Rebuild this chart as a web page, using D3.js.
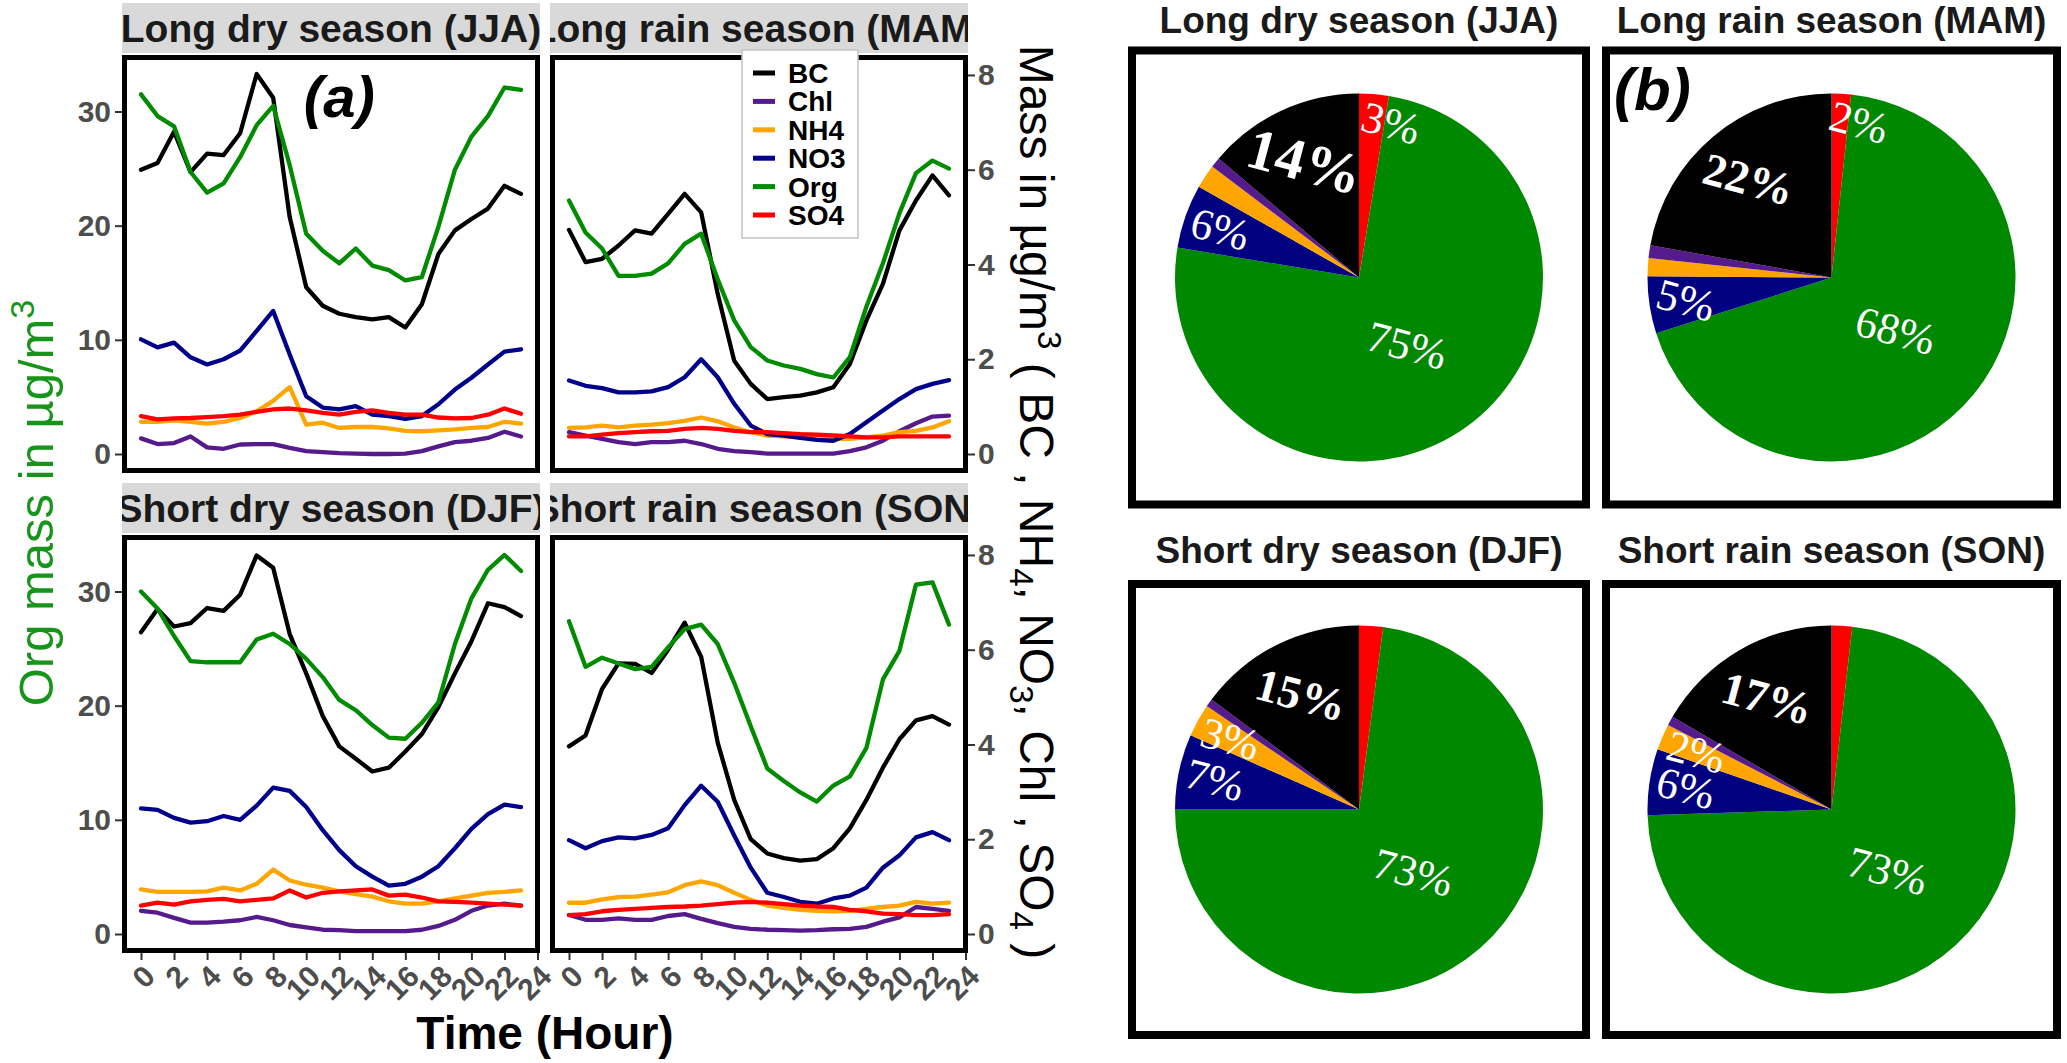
<!DOCTYPE html>
<html><head><meta charset="utf-8">
<script src="https://cdn.jsdelivr.net/npm/d3@7"></script>
<style>body{margin:0;background:#fff} svg{display:block}</style>
</head><body>
<svg id="chart" width="2067" height="1063"></svg>
<script>
// ---------------- DATA ----------------
const hours = [0,1,2,3,4,5,6,7,8,9,10,11,12,13,14,15,16,17,18,19,20,21,22,23];
const seasons = ["Long dry season (JJA)","Long rain season (MAM)","Short dry season (DJF)","Short rain season (SON)"];
const species = ["BC","Chl","NH4","NO3","Org","SO4"];
const leftTicks = [0,10,20,30];
const rightTicks = [0,2,4,6,8];
const xTicks = [0,2,4,6,8,10,12,14,16,18,20,22,24];
const secFactor = 4.15; // Org axis units per secondary-axis unit

// Org in µg/m3 (left axis); other species in µg/m3 on the right axis
const org_JJA = [31.5,29.6,28.7,24.7,22.9,23.7,26.0,28.8,30.5,25.3,19.3,17.8,16.7,18.0,16.5,16.1,15.2,15.5,19.9,24.9,27.8,29.6,32.1,31.9];
const bc_JJA  = [6.0,6.14,6.8,5.95,6.34,6.31,6.77,8.02,7.52,5.0,3.52,3.13,2.96,2.89,2.84,2.89,2.67,3.16,4.22,4.72,4.96,5.18,5.66,5.49];
const no3_JJA = [2.42,2.25,2.35,2.04,1.89,2.0,2.18,2.6,3.02,2.1,1.22,0.98,0.94,1.01,0.83,0.8,0.74,0.8,1.05,1.36,1.61,1.89,2.16,2.21];
const nh4_JJA = [0.68,0.68,0.71,0.68,0.64,0.68,0.76,0.9,1.12,1.41,0.62,0.66,0.55,0.57,0.57,0.54,0.49,0.48,0.5,0.52,0.55,0.57,0.68,0.64];
const so4_JJA = [0.8,0.73,0.75,0.76,0.78,0.8,0.83,0.89,0.94,0.96,0.92,0.87,0.83,0.89,0.92,0.87,0.83,0.83,0.77,0.75,0.76,0.83,0.96,0.85];
const chl_JJA = [0.33,0.21,0.23,0.37,0.14,0.11,0.2,0.21,0.21,0.13,0.06,0.04,0.02,0.01,0.0,0.0,0.01,0.06,0.16,0.25,0.28,0.34,0.47,0.37];

const org_MAM = [22.2,19.4,18.0,15.6,15.6,15.8,16.7,18.4,19.3,15.3,11.7,9.36,8.19,7.75,7.46,7.0,6.7,8.48,12.9,16.7,21.1,24.6,25.7,25.0];
const bc_MAM  = [4.73,4.05,4.12,4.4,4.72,4.65,5.07,5.49,5.1,3.38,1.97,1.48,1.16,1.2,1.23,1.3,1.41,1.9,2.82,3.59,4.72,5.35,5.88,5.46];
const no3_MAM = [1.55,1.44,1.39,1.3,1.3,1.32,1.41,1.62,2.0,1.62,1.06,0.6,0.42,0.39,0.34,0.3,0.28,0.42,0.67,0.92,1.16,1.37,1.48,1.56];
const nh4_MAM = [0.55,0.56,0.6,0.56,0.6,0.62,0.65,0.7,0.77,0.69,0.56,0.46,0.39,0.37,0.35,0.35,0.32,0.32,0.35,0.39,0.46,0.49,0.56,0.69];
const so4_MAM = [0.37,0.37,0.41,0.44,0.46,0.48,0.49,0.53,0.55,0.53,0.49,0.46,0.46,0.44,0.42,0.41,0.39,0.37,0.35,0.35,0.37,0.37,0.37,0.37];
const chl_MAM = [0.46,0.39,0.32,0.25,0.21,0.25,0.25,0.28,0.21,0.11,0.06,0.04,0.01,0.01,0.01,0.01,0.01,0.06,0.14,0.28,0.48,0.65,0.79,0.81];

const org_DJF = [30.0,28.5,26.1,23.9,23.8,23.8,23.8,25.8,26.3,25.4,24.1,22.5,20.5,19.6,18.3,17.2,17.1,18.5,20.3,25.4,29.4,31.9,33.2,31.8];
const bc_DJF  = [6.37,6.86,6.49,6.56,6.88,6.82,7.16,7.99,7.73,6.33,5.5,4.6,3.96,3.7,3.43,3.51,3.85,4.22,4.79,5.5,6.18,6.98,6.9,6.71];
const no3_DJF = [2.65,2.62,2.45,2.35,2.38,2.49,2.41,2.71,3.09,3.02,2.68,2.19,1.77,1.43,1.21,1.02,1.06,1.21,1.43,1.81,2.22,2.53,2.73,2.68];
const nh4_DJF = [0.94,0.89,0.89,0.89,0.9,0.98,0.92,1.06,1.36,1.13,1.04,0.98,0.9,0.84,0.79,0.69,0.64,0.64,0.69,0.75,0.81,0.87,0.89,0.92];
const so4_DJF = [0.6,0.66,0.62,0.69,0.72,0.74,0.69,0.72,0.75,0.92,0.77,0.87,0.9,0.92,0.94,0.81,0.83,0.77,0.69,0.68,0.66,0.64,0.62,0.6];
const chl_DJF = [0.49,0.45,0.34,0.24,0.24,0.26,0.29,0.36,0.29,0.19,0.14,0.09,0.08,0.06,0.06,0.06,0.06,0.09,0.17,0.3,0.49,0.6,0.64,0.6];

const org_SON = [27.4,23.4,24.2,23.7,23.2,23.4,25.1,26.7,27.1,25.4,22.0,18.2,14.5,13.4,12.4,11.6,13.0,13.8,16.3,22.3,24.8,30.6,30.8,27.1];
const bc_SON  = [3.96,4.19,5.17,5.71,5.7,5.51,6.0,6.57,5.85,4.04,2.83,2.0,1.7,1.6,1.55,1.58,1.81,2.23,2.83,3.51,4.11,4.51,4.6,4.42];
const no3_SON = [1.98,1.81,1.96,2.04,2.02,2.09,2.23,2.72,3.13,2.79,2.08,1.4,0.87,0.78,0.68,0.64,0.75,0.81,0.98,1.4,1.66,2.04,2.15,1.98];
const nh4_SON = [0.66,0.66,0.73,0.78,0.79,0.83,0.88,1.03,1.11,1.03,0.87,0.72,0.6,0.55,0.51,0.49,0.48,0.49,0.53,0.57,0.6,0.68,0.64,0.66];
const so4_SON = [0.4,0.42,0.48,0.51,0.53,0.55,0.57,0.58,0.6,0.63,0.66,0.68,0.66,0.63,0.6,0.58,0.57,0.51,0.48,0.43,0.42,0.4,0.4,0.42];
const chl_SON = [0.4,0.3,0.3,0.33,0.3,0.3,0.38,0.42,0.32,0.23,0.15,0.11,0.09,0.08,0.07,0.08,0.1,0.11,0.15,0.26,0.35,0.57,0.53,0.49];

// Pie: mass fractions (%) in clockwise order from 12 o'clock
const pieOrder = ["SO4","Org","NO3","NH4","Chl","BC"];
const pie_JJA = [2.6,75.0,5.6,2.1,0.9,13.8];
const pie_MAM = [1.7,68.4,5.0,1.6,1.1,22.2];
const pie_DJF = [2.1,72.9,6.6,2.9,0.7,14.8];
const pie_SON = [1.8,72.7,5.8,2.3,0.8,16.6];
const pieLabeled_JJA = ["SO4","Org","NO3","BC"];
const pieLabeled_MAM = ["SO4","Org","NO3","BC"];
const pieLabeled_DJF = ["Org","NH4","NO3","BC"];
const pieLabeled_SON = ["Org","NH4","NO3","BC"];

// ---------------- STYLE / LAYOUT ----------------
const SANS = "'Liberation Sans', Arial, Helvetica, sans-serif";
const SERIF = "'Liberation Serif', 'Times New Roman', serif";
const colors = {BC:"#000000", Chl:"#551A8B", NH4:"#FFA500", NO3:"#00008B", Org:"#008B00", SO4:"#FF0000"};
const pieColors = {BC:"#000000", Chl:"#551A8B", NH4:"#FFA500", NO3:"#000080", Org:"#008800", SO4:"#FF0000"};
const colX = [[122,540],[550,968]];
const rowY = [[55,473],[535,953]];

const svg = d3.select("#chart").style("font-family", SANS);

const facets = [
  {name:seasons[0], col:0, row:0, data:{BC:bc_JJA, Chl:chl_JJA, NH4:nh4_JJA, NO3:no3_JJA, Org:org_JJA, SO4:so4_JJA}},
  {name:seasons[1], col:1, row:0, data:{BC:bc_MAM, Chl:chl_MAM, NH4:nh4_MAM, NO3:no3_MAM, Org:org_MAM, SO4:so4_MAM}},
  {name:seasons[2], col:0, row:1, data:{BC:bc_DJF, Chl:chl_DJF, NH4:nh4_DJF, NO3:no3_DJF, Org:org_DJF, SO4:so4_DJF}},
  {name:seasons[3], col:1, row:1, data:{BC:bc_SON, Chl:chl_SON, NH4:nh4_SON, NO3:no3_SON, Org:org_SON, SO4:so4_SON}}
];

// shared scales (ggplot-like 5% expansion)
const allVals = [];
facets.forEach(f => species.forEach(s => f.data[s].forEach(v => allVals.push(s === "Org" ? v : v * secFactor))));
const yExt = d3.extent(allVals), yPad = (yExt[1] - yExt[0]) * 0.05;
const yDomain = [yExt[0] - yPad, yExt[1] + yPad];
const xExt = d3.extent(hours), xPad = (xExt[1] - xExt[0]) * 0.05;
const xDomain = [xExt[0] - xPad, xExt[1] + xPad];

const defs = svg.append("defs");

facets.forEach((f, fi) => {
  const [x0, x1] = colX[f.col], [y0, y1] = rowY[f.row];
  const x = d3.scaleLinear().domain(xDomain).range([x0, x1]);
  const y = d3.scaleLinear().domain(yDomain).range([y1, y0]);
  const ySec = d3.scaleLinear().domain(yDomain.map(v => v / secFactor)).range([y1, y0]);
  const g = svg.append("g");

  // strip
  defs.append("clipPath").attr("id", "strip" + fi)
    .append("rect").attr("x", x0).attr("y", y0 - 52).attr("width", x1 - x0).attr("height", 50);
  g.append("rect").attr("x", x0).attr("y", y0 - 52).attr("width", x1 - x0).attr("height", 50).attr("fill", "#d9d9d9");
  g.append("text").attr("clip-path", `url(#strip${fi})`)
    .attr("x", (x0 + x1) / 2).attr("y", y0 - 27 + 14)
    .attr("text-anchor", "middle").attr("font-size", 39).attr("font-weight", "bold").attr("fill", "#1a1a1a").text(f.name);

  // lines
  species.forEach(s => {
    const line = d3.line().x((d, i) => x(hours[i])).y(d => s === "Org" ? y(d) : ySec(d));
    g.append("path").attr("d", line(f.data[s])).attr("fill", "none")
      .attr("stroke", colors[s]).attr("stroke-width", 4.3).attr("stroke-linejoin", "round").attr("stroke-linecap", "round");
  });

  // border
  g.append("rect").attr("x", x0 + 2.5).attr("y", y0 + 2.5).attr("width", x1 - x0 - 5).attr("height", y1 - y0 - 5)
    .attr("fill", "none").attr("stroke", "#000").attr("stroke-width", 5);

  const styleAxis = sel => {
    sel.select(".domain").remove();
    sel.selectAll(".tick line").attr("stroke", "#333").attr("stroke-width", 2);
    sel.selectAll(".tick text").attr("fill", "#4d4d4d").attr("font-size", 30).attr("font-weight", "bold").attr("font-family", SANS);
  };
  if (f.col === 0) {
    g.append("g").attr("transform", `translate(${x0},0)`)
      .call(d3.axisLeft(y).tickValues(leftTicks).tickSize(7).tickPadding(4)).call(styleAxis);
  } else {
    g.append("g").attr("transform", `translate(${x1},0)`)
      .call(d3.axisRight(ySec).tickValues(rightTicks).tickSize(7).tickPadding(3)).call(styleAxis);
  }
  if (f.row === 1) {
    const ax = g.append("g").attr("transform", `translate(0,${y1})`)
      .call(d3.axisBottom(x).tickValues(xTicks).tickSize(7)).call(styleAxis);
    ax.selectAll(".tick text").attr("y", null).attr("dy", "0.72em")
      .attr("text-anchor", "end").attr("transform", "translate(0,10) rotate(-45)");
  }
  if (fi === 0) {
    g.append("text").attr("x", x(12)).attr("y", y(29.5)).attr("text-anchor", "middle")
      .attr("font-size", 58).attr("font-weight", "bold").attr("font-style", "italic").text("(a)");
  }
});

// legend
const lg = svg.append("g").attr("transform", "translate(742,50)");
lg.append("rect").attr("x", 0).attr("y", 0).attr("width", 116).attr("height", 188)
  .attr("fill", "#fff").attr("stroke", "#c4c4c4").attr("stroke-width", 1.5);
species.forEach((s, i) => {
  const yy = 23 + i * 28.4;
  lg.append("line").attr("x1", 11).attr("x2", 33).attr("y1", yy).attr("y2", yy)
    .attr("stroke", colors[s]).attr("stroke-width", 5);
  lg.append("text").attr("x", 46).attr("y", yy).attr("dy", "0.36em").attr("font-size", 28)
    .attr("font-weight", "bold").attr("fill", "#000").text(s);
});

// axis titles
const lt = svg.append("text").attr("transform", "translate(53,503) rotate(-90)")
  .attr("text-anchor", "middle").attr("font-size", 49).attr("fill", "#17951b").style("white-space", "pre");
lt.append("tspan").text("Org mass in µg/m");
lt.append("tspan").attr("font-size", 34).attr("dy", -19).text("3");

const rt = svg.append("text").attr("transform", "translate(1020,502) rotate(90)")
  .attr("text-anchor", "middle").attr("font-size", 48).attr("fill", "#000").style("white-space", "pre");
const rtParts = [["Mass in µg/m",0],["3",-18],[" ( BC , NH",18],["4",10],[", NO",-10],["3",10],[", Chl , SO",-10],["4",10],[" )",-10]];
rtParts.forEach((p, i) => {
  const isScript = (i % 2 === 1);
  const t = rt.append("tspan").text(p[0]);
  if (p[1] !== 0) t.attr("dy", p[1]);
  if (isScript) t.attr("font-size", 33);
});

svg.append("text").attr("x", (colX[0][0] + colX[1][1]) / 2).attr("y", 1049).attr("text-anchor", "middle")
  .attr("font-size", 46).attr("font-weight", "bold").attr("fill", "#000").text("Time (Hour)");

// ---------------- PIES ----------------
const pieBoxX = [[1132,1586],[1606,2057]];
const pieBoxY = [[50.5,504.5],[584,1035]];
const pieTitleY = [33, 563];
const R = 184;
const pies = [
  {name:seasons[0], col:0, row:0, vals:pie_JJA, labeled:pieLabeled_JJA},
  {name:seasons[1], col:1, row:0, vals:pie_MAM, labeled:pieLabeled_MAM},
  {name:seasons[2], col:0, row:1, vals:pie_DJF, labeled:pieLabeled_DJF},
  {name:seasons[3], col:1, row:1, vals:pie_SON, labeled:pieLabeled_SON}
];
const pieGen = d3.pie().sort(null).value(d => d.v).startAngle(0).endAngle(2 * Math.PI);
const arc = d3.arc().innerRadius(0).outerRadius(R);

pies.forEach((p, pi) => {
  const [bx0, bx1] = pieBoxX[p.col], [by0, by1] = pieBoxY[p.row];
  const cx = (bx0 + bx1) / 2, cy = (by0 + by1) / 2;
  svg.append("text").attr("x", cx).attr("y", pieTitleY[p.row]).attr("text-anchor", "middle")
    .attr("font-size", 37).attr("font-weight", "bold").attr("fill", "#1a1a1a").text(p.name);
  svg.append("rect").attr("x", bx0).attr("y", by0).attr("width", bx1 - bx0).attr("height", by1 - by0)
    .attr("fill", "#fff").attr("stroke", "#000").attr("stroke-width", 8);
  const data = pieOrder.map((s, i) => ({s, v: p.vals[i]}));
  const total = d3.sum(data, d => d.v);
  const arcs = pieGen(data);
  const g = svg.append("g").attr("transform", `translate(${cx},${cy})`);
  g.selectAll("path").data(arcs).join("path").attr("d", arc).attr("fill", d => pieColors[d.data.s]);
  arcs.filter(a => p.labeled.includes(a.data.s)).forEach(a => {
    const frac = a.data.v / total;
    let ang = (a.startAngle + a.endAngle) / 2;
    let rf = frac > 0.5 ? 0.45 : (frac > 0.1 ? 0.70 : 0.80);
    if (a.data.s === "SO4") { ang += 7 * Math.PI / 180; rf = 0.86; }
    const px = Math.sin(ang) * R * rf, py = -Math.cos(ang) * R * rf;
    const isBC = a.data.s === "BC";
    const size = (isBC && pi === 0) ? 58 : (isBC ? 46 : 44);
    g.append("text").attr("transform", `translate(${px},${py}) rotate(15)`)
      .attr("text-anchor", "middle").attr("dy", "0.35em")
      .attr("font-family", SERIF).attr("font-size", size).attr("font-weight", isBC ? "bold" : "normal")
      .attr("fill", "#fff").text(Math.round(frac * 100) + "%");
  });
});
svg.append("text").attr("x", 1614).attr("y", 110).attr("font-size", 60).attr("font-weight", "bold")
  .attr("font-style", "italic").attr("fill", "#000").text("(b)");
</script>
</body></html>
